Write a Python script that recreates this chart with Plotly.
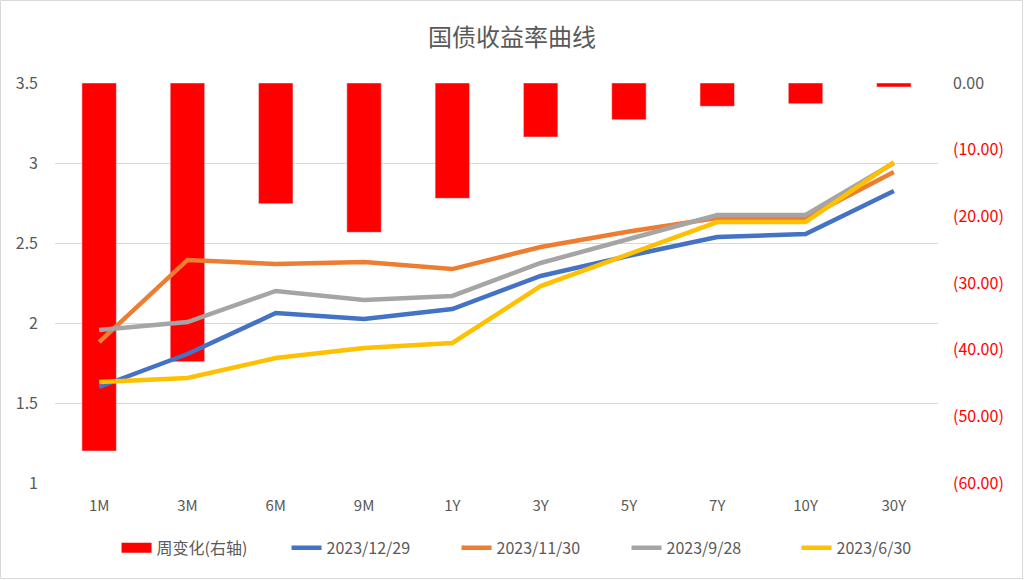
import plotly.graph_objects as go

tenors = ['1M', '3M', '6M', '9M', '1Y', '3Y', '5Y', '7Y', '10Y', '30Y']
weekly_change = [-55.2, -41.8, -18.1, -22.4, -17.3, -8.1, -5.5, -3.5, -3.1, -0.6]
y_20231229 = [1.600, 1.806, 2.062, 2.025, 2.087, 2.294, 2.420, 2.537, 2.556, 2.825]
y_20231130 = [1.881, 2.394, 2.369, 2.381, 2.337, 2.475, 2.572, 2.656, 2.656, 2.944]
y_20230928 = [1.956, 2.006, 2.200, 2.144, 2.169, 2.375, 2.525, 2.675, 2.675, 3.000]
y_20230630 = [1.631, 1.656, 1.781, 1.844, 1.875, 2.231, 2.431, 2.631, 2.631, 3.006]

left_ticks = [1, 1.5, 2, 2.5, 3, 3.5]
left_ticktext = ['1', '1.5', '2', '2.5', '3', '3.5']
right_ticks = [0, -10, -20, -30, -40, -50, -60]
right_ticktext = ['<span style="color:#595959">0.00</span>', '(10.00)', '(20.00)', '(30.00)',
                  '(40.00)', '(50.00)', '(60.00)']

FONT = 'Noto Sans CJK SC'
GREY = '#595959'

fig = go.Figure()
fig.add_trace(go.Bar(x=tenors, y=weekly_change, name='周变化(右轴)', marker_color='#FF0000',
                     yaxis='y', width=0.39, showlegend=False))
# legend proxy for the bar series (wide red rectangle like the original)
fig.add_trace(go.Scatter(x=[None], y=[None], name='周变化(右轴)', mode='lines',
                         line=dict(color='#FF0000', width=11), yaxis='y'))
series = [
    ('2023/12/29', y_20231229, '#4472C4'),
    ('2023/11/30', y_20231130, '#ED7D31'),
    ('2023/9/28', y_20230928, '#A5A5A5'),
    ('2023/6/30', y_20230630, '#FFC000'),
]
for name, vals, col in series:
    fig.add_trace(go.Scatter(x=tenors, y=vals, name=name, mode='lines',
                             line=dict(color=col, width=4.5), yaxis='y2'))

fig.update_layout(
    width=1024, height=580,
    paper_bgcolor='white', plot_bgcolor='white',
    margin=dict(l=55, r=86, t=83, b=97),
    font=dict(family=FONT, color=GREY, size=15),
    title=dict(text='国债收益率曲线', x=0.5, xanchor='center', y=1 - 38 / 580, yanchor='middle',
               yref='container', font=dict(size=24, color=GREY, family=FONT)),
    xaxis=dict(type='category', showgrid=False, showline=False, ticks='',
               tickfont=dict(size=15, color=GREY), range=[-0.5, 9.5], ticklabelstandoff=12),
    yaxis=dict(side='right', range=[-60, 0], tickvals=right_ticks, ticktext=right_ticktext,
               showgrid=False, zeroline=False, showline=False, ticks='',
               tickfont=dict(size=16, color='#FF0000'), ticklabelstandoff=14),
    yaxis2=dict(side='left', overlaying='y', range=[1, 3.5], tickvals=left_ticks,
                ticktext=left_ticktext, showgrid=True, gridcolor='#D9D9D9', gridwidth=1.3,
                zeroline=False, showline=False, ticks='', tickfont=dict(size=16, color=GREY),
                ticklabelstandoff=16),
    legend=dict(orientation='h', x=0.551, xanchor='center', y=-0.162, yanchor='middle',
                font=dict(size=16, color=GREY, family=FONT), traceorder='normal',
                itemwidth=30, entrywidth=125, bgcolor='rgba(0,0,0,0)'),
    bargap=0.6,
    showlegend=True,
)
fig.add_shape(type='rect', xref='paper', yref='paper',
              x0=-54.5 / 883, x1=1 + 84.5 / 883, y0=-95.5 / 400, y1=1 + 82.5 / 400,
              line=dict(color='#D9D9D9', width=1), fillcolor='rgba(0,0,0,0)', layer='below')

fig.write_html('out.html', config={'displayModeBar': False},
               post_script="document.body.style.margin='0';")
